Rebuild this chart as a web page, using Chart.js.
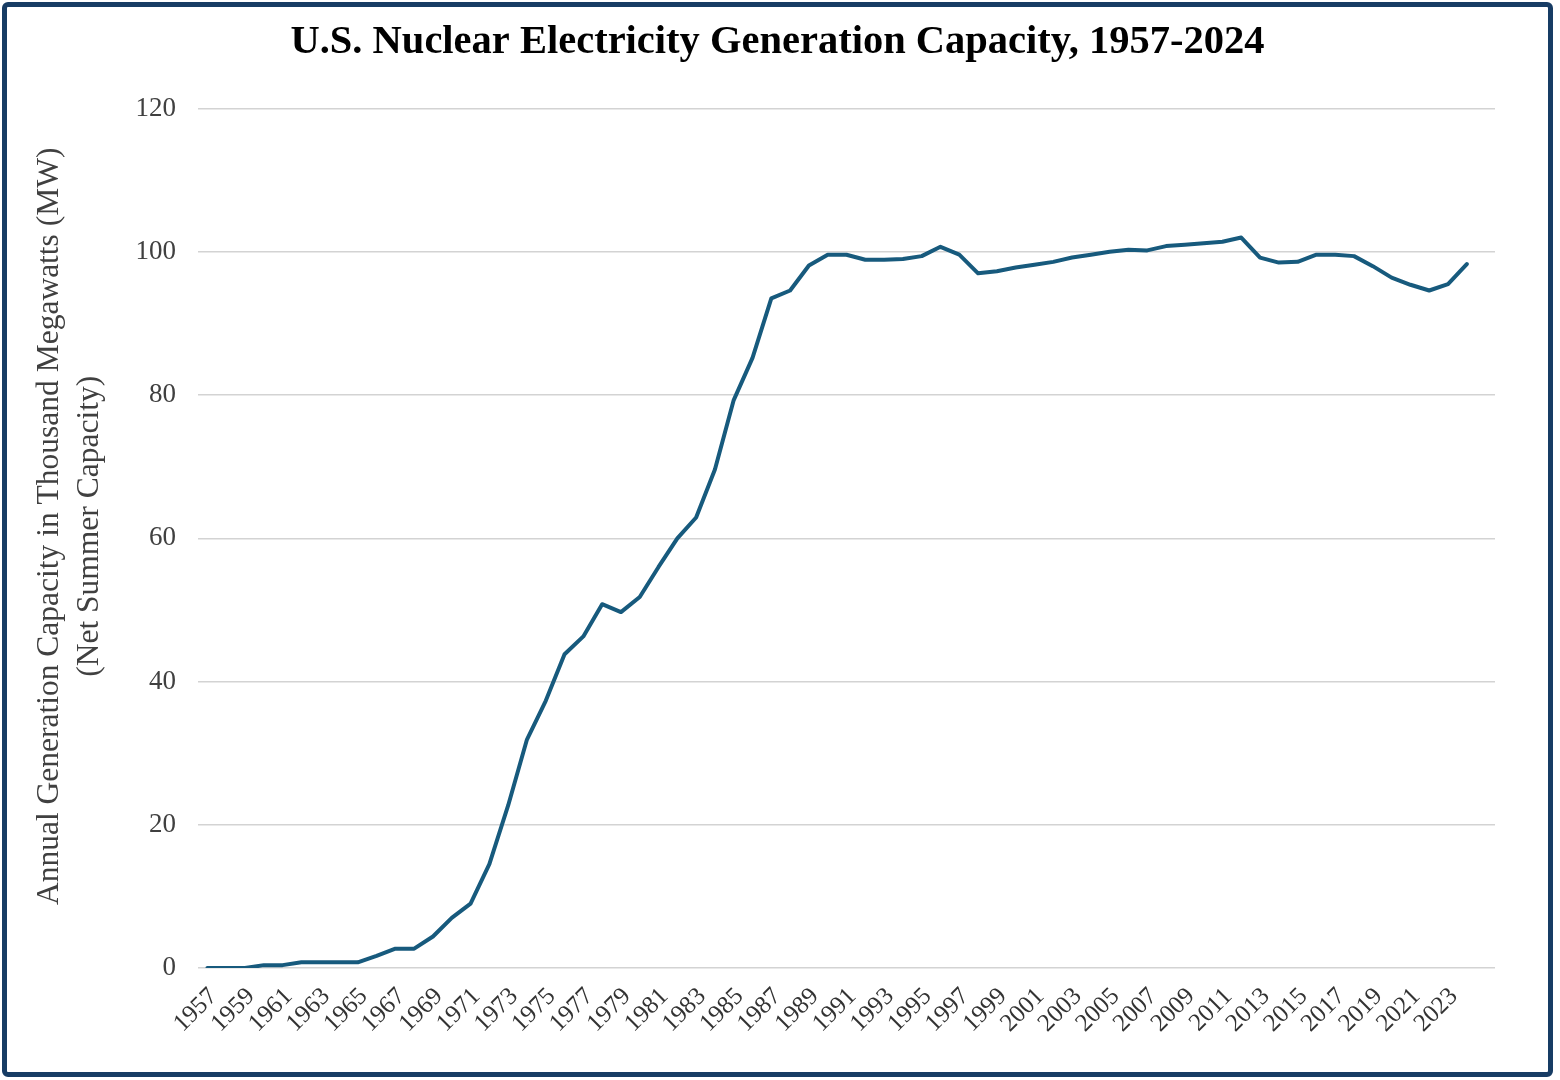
<!DOCTYPE html>
<html>
<head>
<meta charset="utf-8">
<script src="https://cdn.jsdelivr.net/npm/chart.js@4.4.0/dist/chart.umd.min.js"></script>
<style>
  html, body { margin: 0; padding: 0; background: #fff; }
  #frame {
    position: absolute; left: 2px; top: 2px;
    width: 1541px; height: 1065px;
    border: 5px solid #173c64; border-radius: 6px;
    background: #fff;
  }
  #chart { display: block; }
</style>
</head>
<body>
<div id="frame"><canvas id="chart" width="1541" height="1065"></canvas></div>
<script>
// years on the category axis (last slot is an empty category, as in the source chart)
const years = ["1957","1958","1959","1960","1961","1962","1963","1964","1965","1966",
  "1967","1968","1969","1970","1971","1972","1973","1974","1975","1976",
  "1977","1978","1979","1980","1981","1982","1983","1984","1985","1986",
  "1987","1988","1989","1990","1991","1992","1993","1994","1995","1996",
  "1997","1998","1999","2000","2001","2002","2003","2004","2005","2006",
  "2007","2008","2009","2010","2011","2012","2013","2014","2015","2016",
  "2017","2018","2019","2020","2021","2022","2023","2024",""];

// net summer capacity, thousand MW
const capacity = [0.0, 0.0, 0.0, 0.4, 0.4, 0.8, 0.8, 0.8, 0.8, 1.7,
  2.7, 2.7, 4.4, 7.0, 9.0, 14.5, 22.7, 31.9, 37.3, 43.8,
  46.3, 50.8, 49.7, 51.8, 56.0, 60.0, 62.9, 69.6, 79.3, 85.2,
  93.5, 94.6, 98.1, 99.6, 99.6, 98.9, 98.9, 99.0, 99.4, 100.7,
  99.6, 97.0, 97.3, 97.8, 98.2, 98.6, 99.2, 99.6, 100.0, 100.3,
  100.2, 100.8, 101.0, 101.2, 101.4, 102.0, 99.2, 98.5, 98.6, 99.6,
  99.6, 99.4, 98.0, 96.4, 95.4, 94.6, 95.5, 98.3, null];

const yTicks = [0, 20, 40, 60, 80, 100, 120];
const yTitle = ["Annual Generation Capacity in Thousand Megawatts (MW)", "(Net Summer Capacity)"];

const serif = "'Liberation Serif', 'Times New Roman', serif";

// rotated two-line y axis title, drawn a little above the plot centre like the original
const yTitlePlugin = {
  id: "yTitle",
  afterDraw(chart) {
    const ctx = chart.ctx;
    const area = chart.chartArea;
    ctx.save();
    ctx.translate(43, (area.top + area.bottom) / 2 - 12);
    ctx.rotate(-Math.PI / 2);
    ctx.font = "31.5px " + serif;
    ctx.fillStyle = "#404040";
    ctx.textAlign = "center";
    ctx.textBaseline = "middle";
    yTitle.forEach((line, i) => ctx.fillText(line, 0, i * 40));
    ctx.restore();
  }
};

new Chart(document.getElementById("chart").getContext("2d"), {
  type: "line",
  data: {
    labels: years,
    datasets: [{
      data: capacity,
      borderColor: "#175a7d",
      borderWidth: 4,
      borderCapStyle: "round",
      borderJoinStyle: "round",
      pointRadius: 0,
      tension: 0,
      fill: false
    }]
  },
  options: {
    responsive: false,
    animation: false,
    layout: { padding: 0 },
    plugins: {
      legend: { display: false },
      tooltip: { enabled: false },
      title: {
        display: true,
        text: "U.S. Nuclear Electricity Generation Capacity, 1957-2024",
        color: "#000",
        font: { family: serif, size: 40.5, weight: "bold" },
        padding: { top: 11, bottom: 42 }
      }
    },
    scales: {
      x: {
        offset: true,
        grid: { display: false },
        border: { display: false },
        ticks: {
          autoSkip: false,
          maxRotation: 45,
          minRotation: 45,
          padding: 6,
          labelOffset: 6,
          color: "#333",
          font: { family: serif, size: 25 },
          callback: function(v, i) { return i % 2 === 0 ? years[i] : ""; }
        },
        afterFit: function(s) { s.height = 104; }
      },
      y: {
        min: 0,
        max: 120,
        afterBuildTicks: function(s) { s.ticks = yTicks.map(v => ({ value: v })); },
        grid: { color: "#d3d3d3", lineWidth: 1.5, drawTicks: false },
        border: { display: false },
        ticks: {
          padding: 22,
          color: "#404040",
          font: { family: serif, size: 27 }
        },
        afterFit: function(s) { s.width = 191; }
      },
      // empty right-hand axis, only reserves the white margin on the right
      yRight: {
        position: "right",
        min: 0,
        max: 120,
        grid: { display: false },
        border: { display: false },
        ticks: { display: false },
        afterFit: function(s) { s.width = 53; }
      }
    }
  },
  plugins: [yTitlePlugin]
});
</script>
</body>
</html>
